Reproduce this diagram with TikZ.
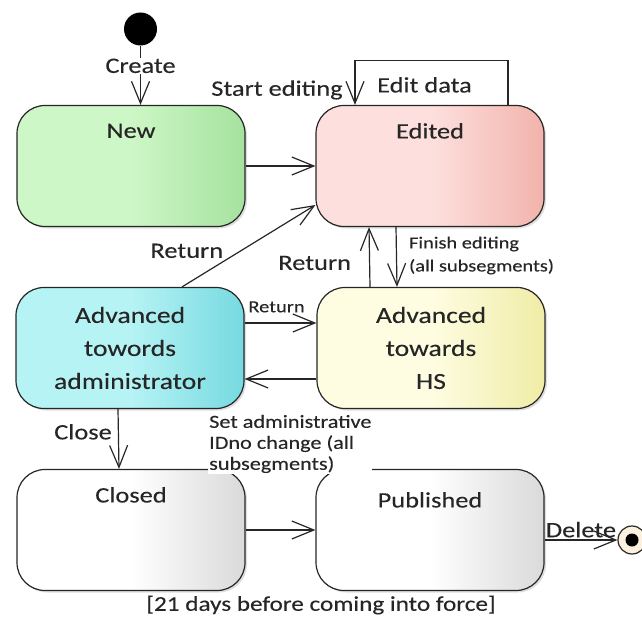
\documentclass[tikz,border=0pt]{standalone}
\usepackage{fontspec}
\setmainfont{Carlito}[FakeStretch=1.2,FakeBold=0.2]
\usetikzlibrary{arrows.meta,shadows}

\definecolor{ink}{HTML}{262626}
\definecolor{newL}{HTML}{CDF7C6}
\definecolor{newR}{HTML}{A6E29F}
\definecolor{editL}{HTML}{FDE0DE}
\definecolor{editR}{HTML}{F2B3AB}
\definecolor{admL}{HTML}{B6F3F5}
\definecolor{admR}{HTML}{76DAE0}
\definecolor{hsL}{HTML}{FEFDE2}
\definecolor{hsR}{HTML}{F0ECA6}
\definecolor{greyR}{HTML}{DADADA}
\definecolor{cream}{HTML}{FBF1DE}

\tikzset{
  statebox/.style={draw=ink, line width=1.2pt, rounded corners=28pt,
    minimum width=228pt, minimum height=121pt, inner sep=0pt,
    drop shadow={shadow xshift=2pt, shadow yshift=-2pt, opacity=0.25},
    text=ink, align=center, font=\fontsize{23}{33}\selectfont},
  stitle/.style={anchor=center, yshift=-26pt, text=ink,
    font=\fontsize{22}{26}\selectfont},
  trans/.style={draw=ink, line width=1.2pt,
    -{Straight Barb[length=22pt,width=18pt]}},
  lbl/.style={text=ink, inner sep=0pt, font=\fontsize{22}{26}\selectfont},
  smalllbl/.style={text=ink, inner sep=0pt, font=\fontsize{17}{23}\selectfont},
  startstate/.style={circle, fill=black, minimum size=33pt, inner sep=0pt},
  endstate/.style={circle, draw=ink, line width=1.2pt, fill=cream,
    minimum size=28pt, inner sep=0pt,
    path picture={\fill[black] (path picture bounding box.center) circle (6.5pt);}}
}

\begin{document}
\begin{tikzpicture}[x=1pt,y=1pt]
        \useasboundingbox (0,0) rectangle (642,625);
        %% States
        \node[startstate] (init) at (140.5,596) {};
        \node[statebox, left color=newL, right color=newR, middle color=newL,
              label={[stitle]north:New}] (new) at (131,459) {};
        \node[statebox, left color=editL, right color=editR, middle color=editL,
              label={[stitle]north:Edited}] (edited) at (430,459) {};
        \node[statebox, left color=admL, right color=admR, middle color=admL]
              (admin) at (130,277) {Advanced\\towords\\administrator};
        \node[statebox, left color=hsL, right color=hsR, middle color=hsL]
              (hs) at (431,277) {Advanced\\towards\\HS};
        \node[statebox, left color=white, right color=greyR, middle color=white,
              label={[stitle]north:Closed}] (closed) at (131,95) {};
        \node[statebox, left color=white, right color=greyR, middle color=white,
              label={[stitle, yshift=-5pt]north:Published}] (published) at (430,95) {};
        \node[endstate] (end) at (632,85) {};
        %% Transitions
        \draw[trans] (init) -- (init |- new.north)
              node[lbl, pos=0.34, fill=white, inner sep=1pt] {Create};
        \draw[trans] (new) -- (edited);
        \draw[trans] ([xshift=78pt]edited.north) -- ++(0,44) -| ([xshift=-75pt]edited.north)
              node[lbl, pos=0.25, xshift=-7pt, yshift=-24pt] {Edit data};
        \draw[trans] ([xshift=52pt]admin.north) -- ([yshift=-39pt]edited.west)
              node[lbl, pos=0.44, left=17pt] {Return};
        \draw[trans] ([xshift=-61pt]hs.north) -- ([xshift=-61pt]edited.south)
              node[lbl, pos=0.4, left=18pt] {Return};
        \draw[trans] ([xshift=-34pt]edited.south) -- ([xshift=-34pt]hs.north)
              node[smalllbl, pos=0.475, right=12pt, align=left] {Finish editing\\(all subsegments)};
        \draw[trans] ([yshift=25pt]admin.east) -- ([yshift=25pt]hs.west)
              node[smalllbl, midway, above=10pt, xshift=-4pt] {Return};
        \draw[trans] ([yshift=-31pt]hs.west) -- ([yshift=-31pt]admin.east);
        \draw[trans] ([xshift=-12pt]admin.south) -- ([xshift=-12pt]closed.north)
              node[lbl, pos=0.38, left=6pt] {Close};
        \draw[trans] (closed) -- (published);
        \draw[trans] ([yshift=-10pt]published.east) -- (end)
              node[lbl, midway, above=2pt] {Delete};
        %% Labels
        \node[lbl] (startlbl) at (277,535) {Start editing};
        \node[lbl, fill=white, inner sep=1pt, align=left, anchor=west,
              font=\fontsize{18.5}{21}\selectfont] (setlbl) at (208,181)
              {Set administrative\\IDno change (all\\subsegments)};
        \node[lbl, font=\fontsize{21}{25}\selectfont] (guardlbl) at (321,20)
              {[21 days before coming into force]};
\end{tikzpicture}
\end{document}
